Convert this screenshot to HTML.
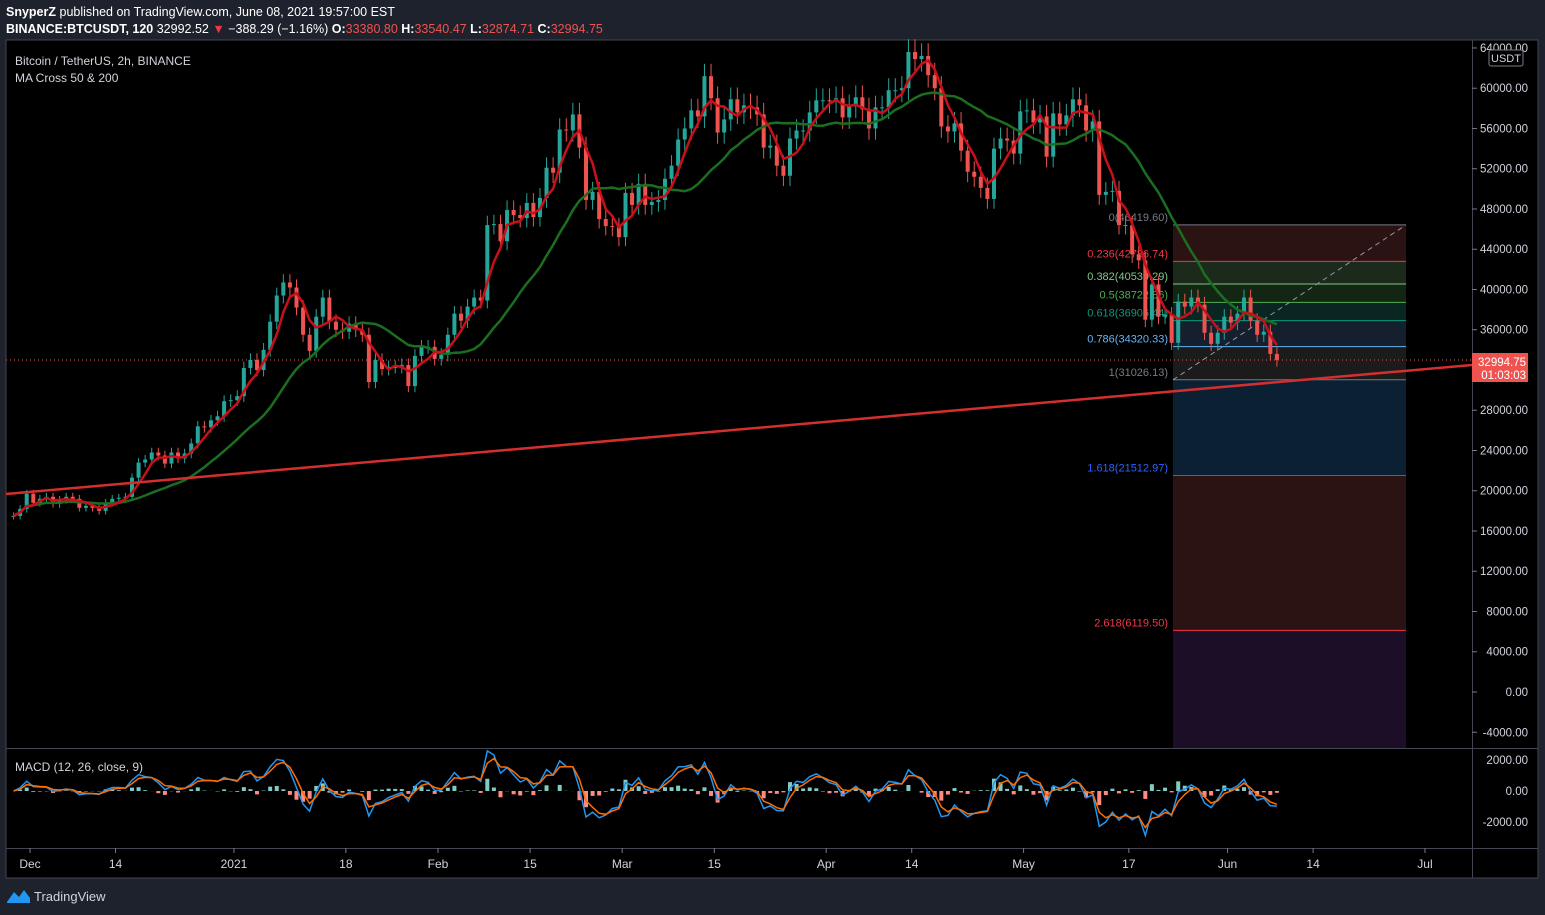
<!DOCTYPE html>
<html><head><meta charset="utf-8"><style>
body{margin:0;width:1545px;height:915px;background:#1e222d;overflow:hidden;font-family:"Liberation Sans",sans-serif}
.hdr{position:absolute;left:6px;color:#fff;font-size:12.5px;white-space:nowrap}
svg{position:absolute;left:0;top:0}
</style></head><body>
<div class="hdr" style="top:5px"><b>SnyperZ</b> published on TradingView.com, June 08, 2021 19:57:00 EST</div>
<div class="hdr" style="top:22px"><b>BINANCE:BTCUSDT, 120</b> 32992.52 <span style="color:#f23645">▼</span> −388.29 (−1.16%) <b>O:</b><span style="color:#ef5350">33380.80</span> <b>H:</b><span style="color:#ef5350">33540.47</span> <b>L:</b><span style="color:#ef5350">32874.71</span> <b>C:</b><span style="color:#ef5350">32994.75</span></div>
<svg id="c" width="1545" height="915" xmlns="http://www.w3.org/2000/svg"></svg>
<script>
const closes=[17.5,18.2,19.7,
18.8,19.2,19.4,18.7,19.1,19.4,19.2,18.3,18.5,18.3,18.0,18.8,19.2,19.3,19.4,21.3,22.8,23.1,23.8,23.5,22.7,23.8,23.2,23.7,24.7,26.4,26.3,27.0,27.4,28.9,29.0,
29.4,32.2,33.0,32.0,34.0,36.8,39.4,40.7,40.2,38.2,35.5,33.9,37.3,39.2,36.8,36.0,35.8,36.6,36.0,35.5,30.8,33.0,32.1,32.3,32.3,32.5,30.4,33.4,34.3,34.3,33.1,
33.5,35.5,37.6,36.9,38.3,39.2,38.9,46.4,46.5,44.8,47.9,47.4,47.1,48.6,47.2,49.1,52.1,51.6,55.9,55.8,57.4,54.1,48.9,49.7,47.0,46.3,46.2,45.2,
49.6,48.4,50.5,48.4,48.7,48.9,51.0,52.3,54.9,56.0,57.8,57.2,61.2,59.0,55.6,56.9,58.9,57.6,58.3,58.1,57.4,54.1,54.3,52.3,51.3,55.0,55.8,55.8,57.6,58.8,58.8,
58.7,59.0,57.1,58.2,59.1,57.9,56.0,58.1,58.1,59.8,59.8,60.0,63.6,62.9,63.2,61.3,60.0,56.2,55.7,56.5,53.8,51.7,51.2,50.1,49.0,54.0,55.0,54.8,53.5,57.7,
57.8,56.6,57.2,53.2,57.5,56.4,57.3,58.9,58.3,55.8,56.7,49.4,49.7,49.8,46.4,46.4,43.5,42.9,37.0,40.5,37.3,37.5,34.7,38.8,38.3,39.2,38.5,35.7,34.6,35.7,37.3,
36.7,37.6,39.2,36.9,35.5,35.8,33.6,33.0];
const startDay=-2.5;
const priceTicks=[64000,60000,56000,52000,48000,44000,40000,36000,32000,28000,24000,20000,16000,12000,8000,4000,0,-4000];
const timeLabels=["Dec","14","2021","18","Feb","15","Mar","15","Apr","14","May","17","Jun","14","Jul"];
const timeDays=[0,13,31,48,62,76,90,104,121,134,151,167,182,195,212];
const fibRatios=[0,0.236,0.382,0.5,0.618,0.786,1,1.618,2.618];
const fibHigh=46419.6, fibLow=31026.13;
const macdTicks=[2000,0,-2000];

const S=document.getElementById('c');const NS='http://www.w3.org/2000/svg';
function el(t,a,p){const e=document.createElementNS(NS,t);for(const k in a)e.setAttribute(k,a[k]);(p||S).appendChild(e);return e;}
const X=d=>30+d*6.58;
const Y=p=>692-p*0.010063;
const MY=v=>791-v*0.0155;

let r=el('rect',{x:6,y:40,width:1532,height:838,fill:'#000',stroke:'#434651'});

const fibY=fibRatios.map(f=>Y(fibHigh-(fibHigh-fibLow)*f));
const fills=['#2b1313','#1b2a1b','#132613','#0a2622','#14202e','#1b1b1b','#0b2033','#2b1313'];
const lineC=['#787b86','#f23645','#81c784','#4caf50','#089981','#64b5f6','#787b86','#2962ff','#f23645'];
const fibG=el('g',{});
for(let i=0;i<fibRatios.length-1;i++)el('rect',{x:1173,y:fibY[i],width:233,height:fibY[i+1]-fibY[i],fill:fills[i]},fibG);
el('rect',{x:1173,y:fibY[8],width:233,height:748-fibY[8],fill:'#1b0e26'},fibG);
fibRatios.forEach((f,i)=>{
 el('line',{x1:1173,x2:1406,y1:fibY[i],y2:fibY[i],stroke:lineC[i],'stroke-width':1},fibG);
 const v=fibHigh-(fibHigh-fibLow)*f;
 const t=el('text',{x:1168,y:fibY[i]-4,fill:lineC[i],'font-size':11,'text-anchor':'end'},fibG);
 t.textContent=(f===0?'0':f===1?'1':String(f))+'('+v.toFixed(2)+')';
 
 
});
el('line',{x1:1173,y1:fibY[6],x2:1406,y2:fibY[0],stroke:'#9598a1','stroke-dasharray':'5,4'},fibG);
el('line',{x1:6,x2:1472,y1:Y(32994.75),y2:Y(32994.75),stroke:'#ef5350','stroke-dasharray':'1,3'});
const cg=el('g',{});
closes.forEach((c,i)=>{
 const o=i?closes[i-1]:c;const d=startDay+i;const x=X(d);
 const col=c>=o?'#26a69a':'#ef5350';
 const hi=Math.max(o,c)*1.02, lo=Math.min(o,c)*0.98;
 el('line',{x1:x,x2:x,y1:Y(hi*1000),y2:Y(lo*1000),stroke:col},cg);
 const y1=Y(Math.max(o,c)*1000),y2=Y(Math.min(o,c)*1000);
 el('rect',{x:x-2,y:y1,width:4,height:Math.max(1,y2-y1),fill:col},cg);
});
function sma(n){return closes.map((c,i)=>{const s=closes.slice(Math.max(0,i-n+1),i+1);return s.reduce((a,b)=>a+b,0)/s.length;});}
function path(arr,fy){return arr.map((v,i)=>(i?'L':'M')+X(startDay+i).toFixed(1)+','+fy(v).toFixed(1)).join('');}
let p=el('path',{d:path(sma(17),v=>Y(v*1000)),stroke:'#1b6e20',fill:'none','stroke-width':2.5});

p=el('path',{d:path(sma(4),v=>Y(v*1000)),stroke:'#c8101a',fill:'none','stroke-width':2.5});

p=el('line',{x1:6,y1:494,x2:1472,y2:365,stroke:'#d32f2f','stroke-width':2.5});

el('line',{x1:6,x2:1538,y1:748.5,y2:748.5,stroke:'#434651'});
el('line',{x1:6,x2:1538,y1:848.5,y2:848.5,stroke:'#434651'});
el('line',{x1:1472.5,x2:1472.5,y1:40,y2:878,stroke:'#434651'});
priceTicks.forEach(v=>{
 const t=el('text',{x:1528,y:Y(v)+4,fill:'#d1d4dc','font-size':11.5,'text-anchor':'end'});
 t.textContent=v.toFixed(2);
 
 
 el('line',{x1:1472,x2:1477,y1:Y(v),y2:Y(v),stroke:'#787b86'});
});
el('rect',{x:1489,y:50,width:34,height:16,fill:'#000',stroke:'#787b86',rx:2});
let t=el('text',{x:1506,y:62,fill:'#d1d4dc','font-size':11,'text-anchor':'middle'});t.textContent='USDT';

const pl=el('g',{});
el('rect',{x:1472,y:353,width:56,height:29,fill:'#ef5350'},pl);
t=el('text',{x:1526,y:366,fill:'#fff','font-size':11.5,'text-anchor':'end'},pl);t.textContent='32994.75';
t=el('text',{x:1526,y:379,fill:'#fff','font-size':11.5,'text-anchor':'end'},pl);t.textContent='01:03:03';
t=el('text',{x:15,y:65,fill:'#d1d4dc','font-size':12});t.textContent='Bitcoin / TetherUS, 2h, BINANCE';

t=el('text',{x:15,y:82,fill:'#d1d4dc','font-size':12});t.textContent='MA Cross 50 & 200';

function ema(a,n){const k=2/(n+1);let o=[];a.forEach((v,i)=>o.push(i?v*k+o[i-1]*(1-k):v));return o;}
const f=ema(closes,2),s=ema(closes,4);const macd=f.map((v,i)=>(v-s[i])*1100);const sig=ema(macd,2.5);
const mg=el('g',{});
macd.forEach((m,i)=>{const h=m-sig[i];const x=X(startDay+i);
 el('rect',{x:x-2,y:Math.min(MY(0),MY(h)),width:4,height:Math.abs(MY(h)-MY(0)),fill:h>=0?'#80cbc4':'#ff8a80'},mg);});
el('path',{d:path(macd,MY),stroke:'#2196f3',fill:'none','stroke-width':1.5},mg);
el('path',{d:path(sig,MY),stroke:'#ff6d00',fill:'none','stroke-width':1.5},mg);
t=el('text',{x:15,y:771,fill:'#d1d4dc','font-size':12},mg);t.textContent='MACD (12, 26, close, 9)';
macdTicks.forEach(v=>{const tt=el('text',{x:1528,y:MY(v)+4,fill:'#d1d4dc','font-size':11.5,'text-anchor':'end'});
 tt.textContent=v.toFixed(2);
 
 });
timeLabels.forEach((l,i)=>{const x=X(timeDays[i]);
 el('line',{x1:x,x2:x,y1:848,y2:853,stroke:'#787b86'});
 const tt=el('text',{x:x,y:868,fill:'#d1d4dc','font-size':12,'text-anchor':'middle'});
 tt.textContent=l;
 
 });
const fg=el('g',{});
el('path',{d:'M7,902 L14,892 L19,897 L24,890 L30,898 L30,903 L7,903Z',fill:'#2196f3'},fg);
t=el('text',{x:34,y:901,fill:'#d1d4dc','font-size':13},fg);t.textContent='TradingView';
</script>
</body></html>
